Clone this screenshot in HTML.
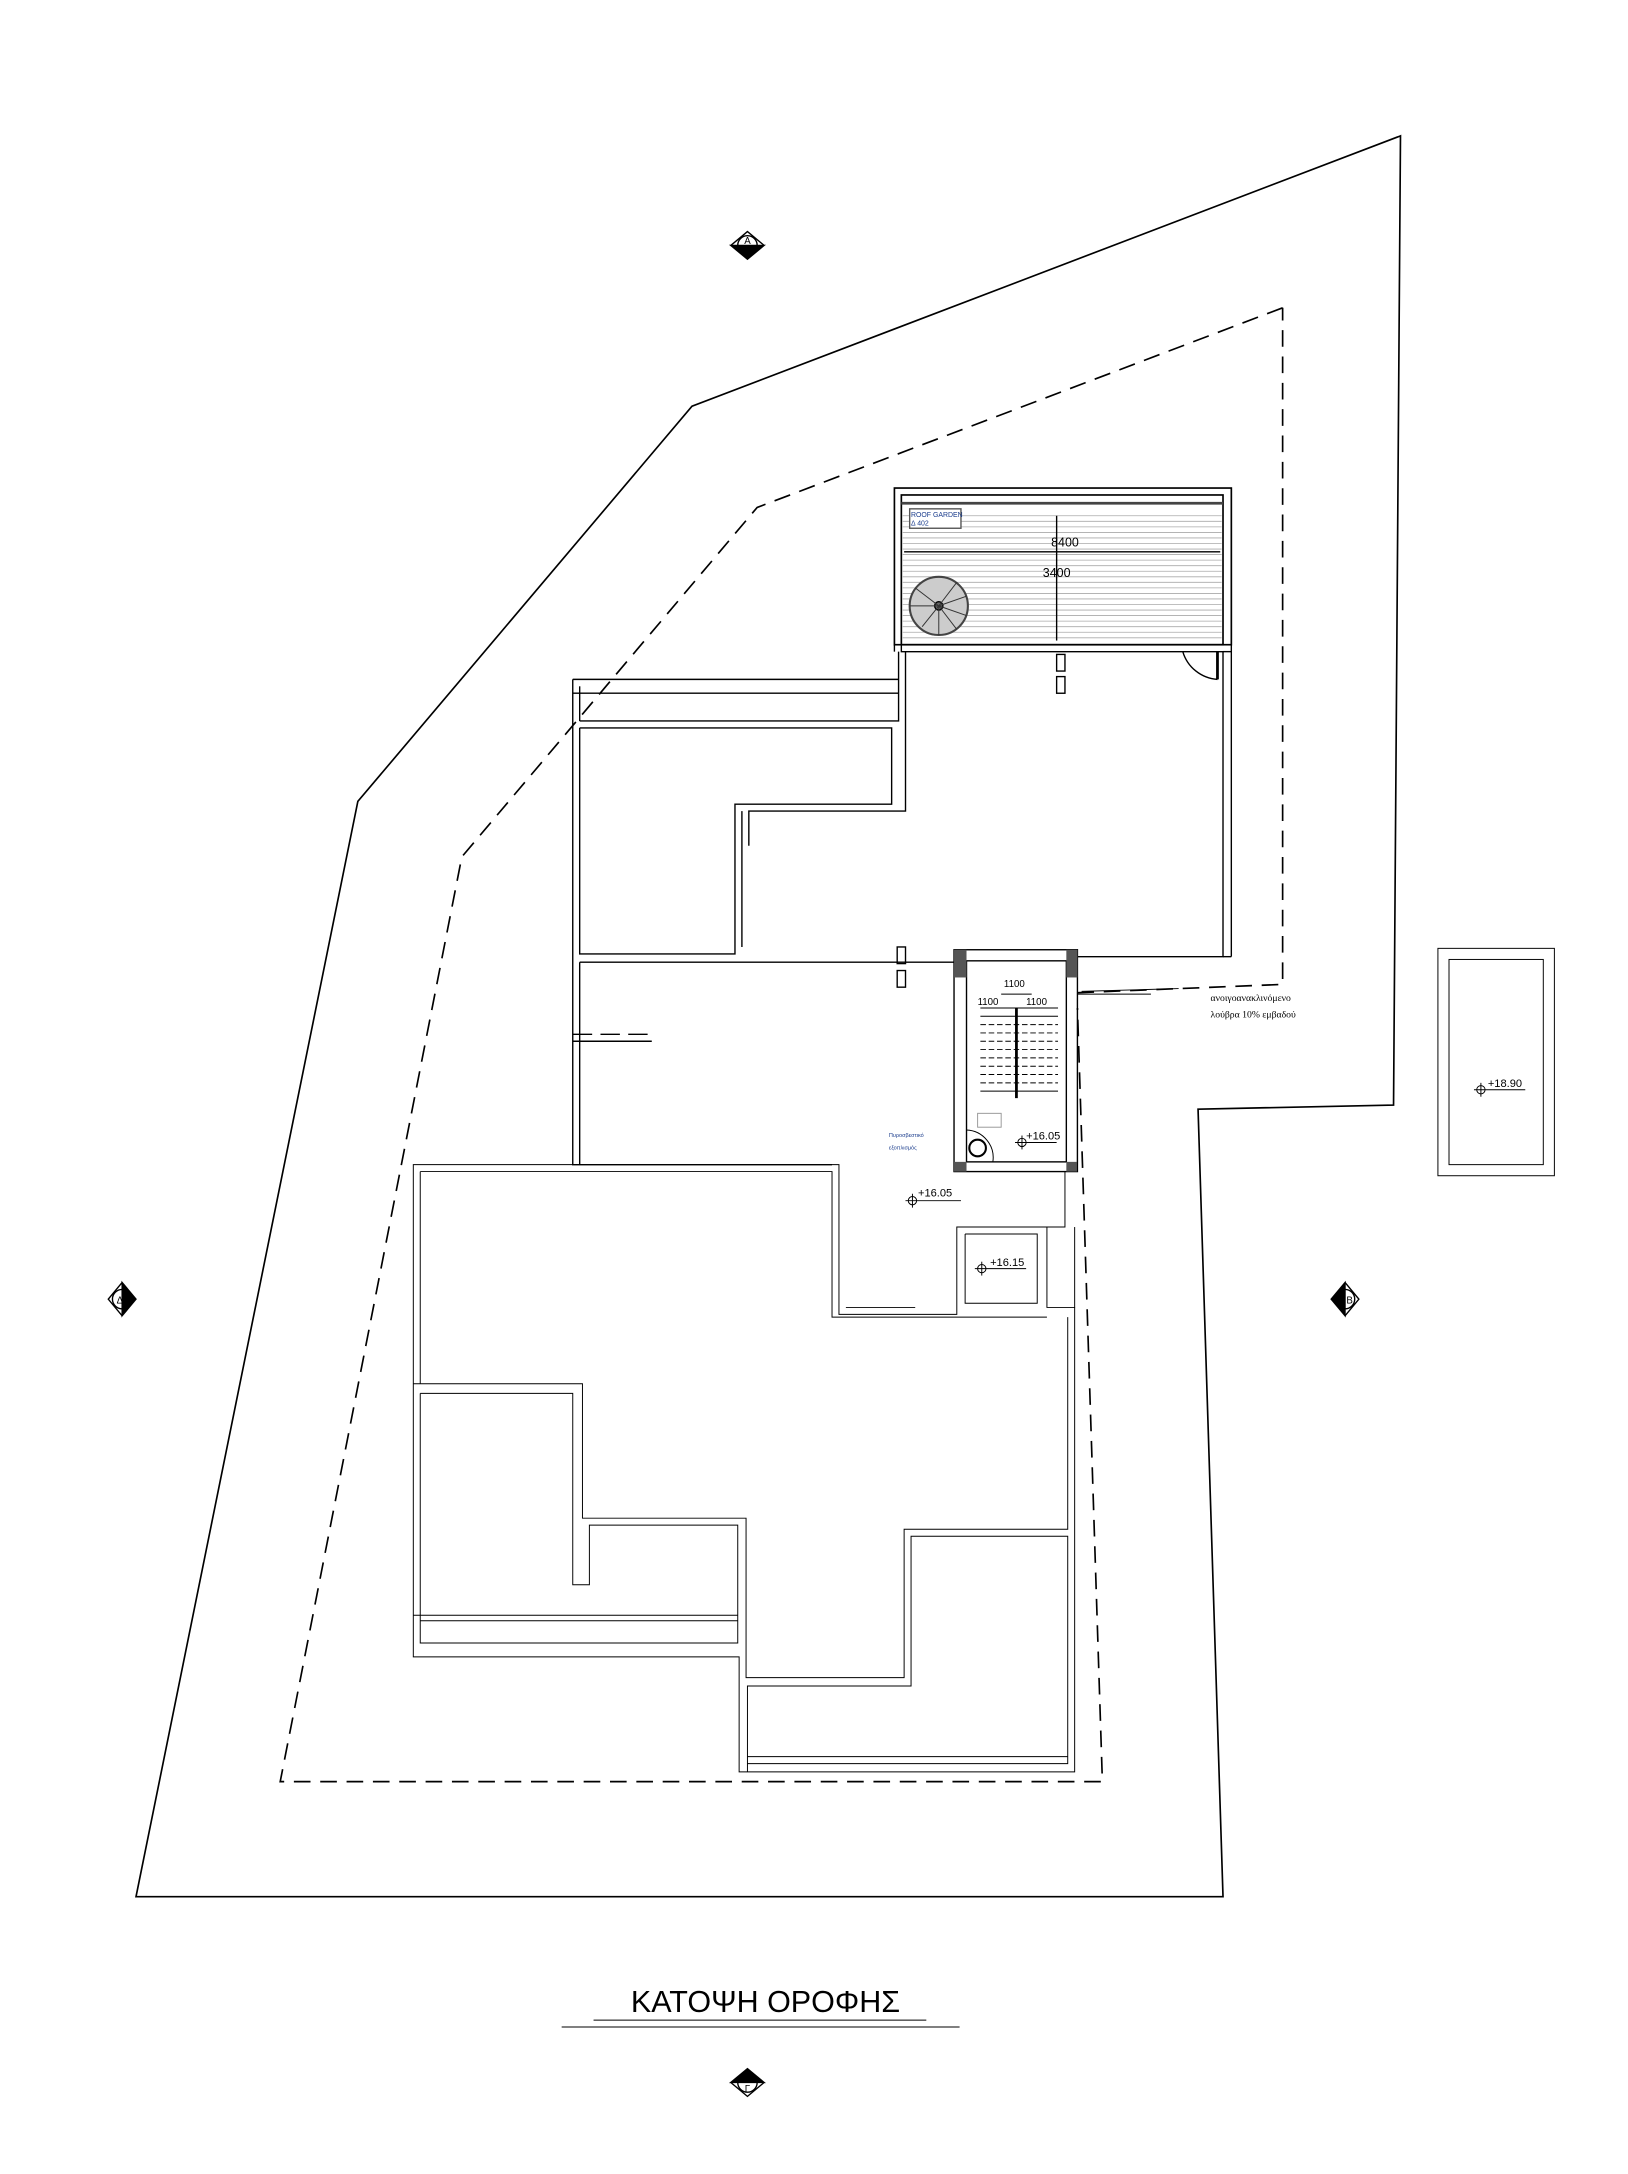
<!DOCTYPE html>
<html><head><meta charset="utf-8"><style>html,body{margin:0;padding:0;background:#fff}svg{display:block}</style></head>
<body>
<svg width="1628" height="2174" viewBox="0 0 1174 1568" xmlns="http://www.w3.org/2000/svg" font-family="Liberation Sans, sans-serif">
<rect width="1174" height="1568" fill="#fff"/>
<g fill="none" stroke="#000" stroke-width="1.2">
<polygon points="1010,98 499,293 258,578 98,1368 882,1368 864,800 1005,797"/>
<polyline stroke-dasharray="12,7" points="925,222 546,366 333,618 202,1285 795,1285 777,727"/>
<polyline stroke-dasharray="12,7" points="777,716 925,710 925,222"/>
<rect x="645" y="352" width="243" height="113"/>
<rect x="650" y="357" width="232" height="108"/>
<line x1="650" y1="363" x2="882" y2="363" stroke-width="2" stroke="#444"/>
</g>
<g stroke="#aaa" stroke-width="0.6">
<line x1="651" y1="372" x2="881" y2="372"/><line x1="651" y1="376" x2="881" y2="376"/><line x1="651" y1="380" x2="881" y2="380"/><line x1="651" y1="384" x2="881" y2="384"/><line x1="651" y1="388" x2="881" y2="388"/><line x1="651" y1="392" x2="881" y2="392"/><line x1="651" y1="396" x2="881" y2="396"/><line x1="651" y1="400" x2="881" y2="400"/><line x1="651" y1="404" x2="881" y2="404"/><line x1="651" y1="408" x2="881" y2="408"/><line x1="651" y1="412" x2="881" y2="412"/><line x1="651" y1="416" x2="881" y2="416"/><line x1="651" y1="420" x2="881" y2="420"/><line x1="651" y1="424" x2="881" y2="424"/><line x1="651" y1="428" x2="881" y2="428"/><line x1="651" y1="432" x2="881" y2="432"/><line x1="651" y1="436" x2="881" y2="436"/><line x1="651" y1="440" x2="881" y2="440"/><line x1="651" y1="444" x2="881" y2="444"/><line x1="651" y1="448" x2="881" y2="448"/><line x1="651" y1="452" x2="881" y2="452"/><line x1="651" y1="456" x2="881" y2="456"/><line x1="651" y1="460" x2="881" y2="460"/>
</g>
<g fill="none" stroke="#000" stroke-width="1">
<line x1="762" y1="372" x2="762" y2="462"/>
<line x1="652" y1="398" x2="880" y2="398"/>
<rect x="656" y="367" width="37" height="14" fill="#fff" stroke="#555"/>
<circle cx="677" cy="437" r="21" fill="#ccc" stroke="#444" stroke-width="1.5"/>
<circle cx="677" cy="437" r="3" fill="#666"/>
<path d="M677,437 L656,437 M677,437 L660,424 M677,437 L665,452 M677,437 L677,458 M677,437 L690,454 M677,437 L697,444 M677,437 L697,430 M677,437 L690,420" stroke="#333" stroke-width="0.7"/>
<polyline points="650,465 650,470 882,470 882,690 775,690"/>
<polyline points="645,465 645,470"/>
<line x1="882" y1="470" x2="888" y2="470"/>
<line x1="888" y1="352" x2="888" y2="690"/>
<line x1="882" y1="690" x2="888" y2="690"/>
<path d="M853,470 A28,28 0 0 0 878,490" />
<line x1="878" y1="470" x2="878" y2="490" stroke-width="2"/>
<rect x="762" y="472" width="6" height="12"/><rect x="762" y="488" width="6" height="12"/>
<polyline points="413,490 648,490"/>
<polyline points="413,490 413,840 600,840"/>
<line x1="418" y1="495" x2="418" y2="520"/>
<polyline points="413,500 648,500"/>
<polyline points="418,520 648,520 648,470"/>
<polyline points="418,525 643,525 643,580 530,580 530,688 418,688 418,525"/>
<polyline points="653,470 653,585 540,585 540,610"/>
<polyline points="535,585 535,683"/>
<polyline points="418,694 688,694"/>
<line x1="418" y1="694" x2="418" y2="840"/>
<rect x="647" y="683" width="6" height="12"/><rect x="647" y="700" width="6" height="12"/>
<line x1="413" y1="746" x2="470" y2="746" stroke-dasharray="14,6"/>
<line x1="413" y1="751" x2="470" y2="751"/>
<rect x="688" y="685" width="89" height="160"/>
<rect x="697" y="693" width="72" height="145"/>
</g>
<rect x="688" y="685" width="9" height="20" fill="#555"/><rect x="769" y="685" width="8" height="20" fill="#555"/>
<rect x="688" y="838" width="9" height="7" fill="#555"/><rect x="769" y="838" width="8" height="7" fill="#555"/>
<g fill="none" stroke="#000" stroke-width="0.7">
<line x1="733" y1="727" x2="733" y2="792" stroke-width="2"/>
<polyline points="707,727 763,727"/>
<line x1="707" y1="733" x2="763" y2="733"/><line x1="707" y1="739" x2="763" y2="739" stroke-dasharray="4,2"/><line x1="707" y1="745" x2="763" y2="745" stroke-dasharray="4,2"/><line x1="707" y1="751" x2="763" y2="751" stroke-dasharray="4,2"/><line x1="707" y1="757" x2="763" y2="757" stroke-dasharray="4,2"/><line x1="707" y1="763" x2="763" y2="763" stroke-dasharray="4,2"/><line x1="707" y1="769" x2="763" y2="769" stroke-dasharray="4,2"/><line x1="707" y1="775" x2="763" y2="775" stroke-dasharray="4,2"/><line x1="707" y1="781" x2="763" y2="781" stroke-dasharray="4,2"/><line x1="707" y1="787" x2="763" y2="787"/>
<line x1="722" y1="717" x2="744" y2="717"/>
<rect x="705" y="803" width="17" height="10" stroke="#999"/>
<path d="M697,815 A20,20 0 0 1 716,838" stroke="#000"/>
<circle cx="705" cy="828" r="6" stroke="#000" stroke-width="1.5"/>
<line x1="777" y1="720" x2="777" y2="845"/>
<line x1="777" y1="717" x2="830" y2="717"/>
<line x1="780" y1="715" x2="850" y2="713"/>
<polyline points="768,845 768,885 690,885 690,948 605,948 605,840 298,840 298,1195 533,1195 533,1278 775,1278 775,943 755,943 755,885"/>
<polyline points="775,885 775,943"/>
<polyline points="696,890 696,940 748,940 748,890 696,890"/>
<polyline points="303,845 600,845 600,950 755,950"/>
<polyline points="610,943 660,943"/>
<line x1="303" y1="845" x2="303" y2="998"/>
<polyline points="298,998 420,998 420,1095 538,1095 538,1210 652,1210 652,1103 770,1103 770,950"/>
<polyline points="303,1005 413,1005 413,1143 425,1143 425,1100 532,1100 532,1185 303,1185 303,1005"/>
<line x1="298" y1="1165" x2="532" y2="1165"/><line x1="303" y1="1169" x2="532" y2="1169"/>
<polyline points="539,1278 539,1216 657,1216 657,1108 770,1108 770,1272 539,1272"/>
<line x1="539" y1="1267" x2="770" y2="1267"/>
<rect x="1037" y="684" width="84" height="164"/>
<rect x="1045" y="692" width="68" height="148"/>
<line x1="428" y1="1457" x2="668" y2="1457"/>
<line x1="405" y1="1462" x2="692" y2="1462"/>
<circle cx="737" cy="824" r="3"/><line x1="732" y1="824" x2="762" y2="824"/><line x1="737" y1="819" x2="737" y2="829"/>
<circle cx="658" cy="866" r="3"/><line x1="653" y1="866" x2="693" y2="866"/><line x1="658" y1="861" x2="658" y2="871"/>
<circle cx="708" cy="915" r="3"/><line x1="703" y1="915" x2="740" y2="915"/><line x1="708" y1="910" x2="708" y2="920"/>
<circle cx="1068" cy="786" r="3"/><line x1="1063" y1="786" x2="1100" y2="786"/><line x1="1068" y1="781" x2="1068" y2="791"/>
</g>
<g font-size="8" fill="#000">
<text x="758" y="394" font-size="9">8400</text>
<text x="752" y="416" font-size="9">3400</text>
<text x="657" y="373" font-size="5" fill="#1a3c8c">ROOF GARDEN</text>
<text x="657" y="379" font-size="5" fill="#1a3c8c">Δ 402</text>
<text x="724" y="712" font-size="7">1100</text>
<text x="705" y="725" font-size="7">1100</text>
<text x="740" y="725" font-size="7">1100</text>
<text x="740" y="822">+16.05</text>
<text x="662" y="863">+16.05</text>
<text x="714" y="913">+16.15</text>
<text x="1073" y="784">+18.90</text>
<text x="641" y="820" font-size="4" fill="#1a3c8c">Πυροσβεστικό</text>
<text x="641" y="829" font-size="4" fill="#1a3c8c">εξοπλισμός</text>
<text x="873" y="722" font-family="Liberation Serif, serif" font-size="7">ανοιγοανακλινόμενο</text>
<text x="873" y="734" font-family="Liberation Serif, serif" font-size="7">λούβρα 10% εμβαδού</text>
<text x="552" y="1451" text-anchor="middle" font-size="22">ΚΑΤΟΨΗ ΟΡΟΦΗΣ</text>
</g>
<g stroke="#000" stroke-width="1">
<g transform="translate(539,177)"><circle r="7" fill="#fff"/><path d="M-12,0 L12,0 L0,10 Z" fill="#000"/><path d="M-12,0 L0,-10 L12,0" fill="none"/><text y="-1" font-size="7" text-anchor="middle" stroke="none">A</text></g>
<g transform="translate(539,1502)"><circle r="7" fill="#fff"/><path d="M-12,0 L12,0 L0,-10 Z" fill="#000"/><path d="M-12,0 L0,10 L12,0" fill="none"/><text y="7" font-size="7" text-anchor="middle" stroke="none">Γ</text></g>
<g transform="translate(88,937)"><circle r="7" fill="#fff"/><path d="M0,-12 L0,12 L10,0 Z" fill="#000"/><path d="M0,-12 L-10,0 L0,12" fill="none"/><text x="-4" y="3" font-size="7" stroke="none">Δ</text></g>
<g transform="translate(970,937)"><circle r="7" fill="#fff"/><path d="M0,-12 L0,12 L-10,0 Z" fill="#000"/><path d="M0,-12 L10,0 L0,12" fill="none"/><text x="1" y="3" font-size="7" stroke="none">B</text></g>
</g>
</svg>
</body></html>
